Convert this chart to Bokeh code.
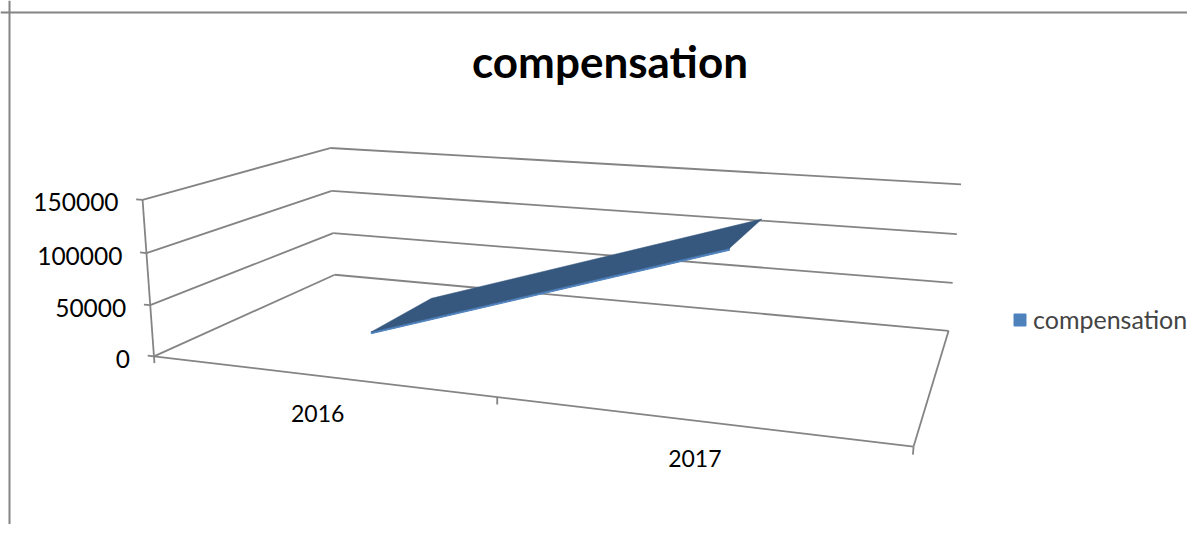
import numpy as np
from bokeh.plotting import figure
from bokeh.models import Range1d, Legend, LegendItem, Span
from bokeh.core.properties import value
from bokeh.embed import file_html
from bokeh.resources import INLINE

# ---------------- data ----------------
categories = ["2016", "2017"]
compensation = [13000, 123000]
value_ticks = [0, 50000, 100000, 150000]
value_tick_labels = ["0", "50000", "100000", "150000"]
title_text = "compensation"
series_name = "compensation"

# ---------------- layout (3-D box anchors, screen px) ----------------
W, H = 1187, 524
VMAX = value_ticks[-1]
# (u along categories, w depth, h = value / VMAX) -> screen point
BOX3D = [(0, 0, 0), (0.5, 0, 0), (1, 0, 0), (1, 1, 0), (0, 1, 0),
         (0, 0, 1), (0, 1, 1), (1, 1, 1),
         (0, 0, 1/3), (0, 0, 2/3), (0, 1, 1/3), (0, 1, 2/3), (1, 1, 1/3), (1, 1, 2/3)]
BOX2D = [(156, 356), (497, 397), (913, 446), (948, 331), (334, 274),
         (143, 200), (330, 147), (960, 184),
         (147, 303), (145, 253), (332, 233), (332, 191), (952, 282), (957, 233)]
W_FRONT, W_BACK = 0.30, 0.695      # depth occupied by the ribbon
RIB_T = 0.012                      # ribbon thickness (value fraction)

CX, CY, CS = 600.0, 300.0, 300.0
rows = []
for (X, Y, Z), (x, y) in zip(BOX3D, BOX2D):
    x, y = (x - CX) / CS, (y - CY) / CS
    rows.append([X, Y, Z, 1, 0, 0, 0, 0, -x * X, -x * Y, -x * Z, -x])
    rows.append([0, 0, 0, 0, X, Y, Z, 1, -y * X, -y * Y, -y * Z, -y])
_, _, vt = np.linalg.svd(np.array(rows, dtype=float))
M = vt[-1].reshape(3, 4)


def proj(u, w, h):
    u, w, h = np.broadcast_arrays(np.asarray(u, float), np.asarray(w, float), np.asarray(h, float))
    P = np.stack([u, w, h, np.ones_like(u)])
    q = M @ P.reshape(4, -1)
    x = q[0] / q[2] * CS + CX
    y = q[1] / q[2] * CS + CY
    return x.reshape(u.shape).tolist(), y.reshape(u.shape).tolist()


p = figure(width=W, height=H, output_backend="svg", toolbar_location=None,
           x_range=Range1d(0, W), y_range=Range1d(H, 0),
           min_border=0, background_fill_color="white", border_fill_color="white")
p.axis.visible = False
p.grid.visible = False
p.outline_line_color = None

GRID = "#848484"
# chart-area border
p.add_layout(Span(location=12, dimension="width", line_color=GRID, line_width=2))
p.add_layout(Span(location=9, dimension="height", line_color=GRID, line_width=2))

hs = [t / VMAX for t in value_ticks]
xs, ys = [], []
for h in hs:
    a = proj([0, 1], [1, 1], [h, h]); xs.append(a[0]); ys.append(a[1])   # back wall
    a = proj([0, 0], [0, 1], [h, h]); xs.append(a[0]); ys.append(a[1])   # side wall
    a = proj([-0.01, 0], [0, 0], [h, h]); xs.append(a[0]); ys.append(a[1])  # value tick
# floor front & right edges, value axis
for seg in [([0, 1], [0, 0], [0, 0]), ([1, 1], [0, 1], [0, 0]), ([0, 0], [0, 0], [0, 1])]:
    a = proj(*seg); xs.append(a[0]); ys.append(a[1])
ncat = len(categories)
for i in range(ncat + 1):
    u = i / ncat
    a = proj([u, u], [0, 0], [0, -0.045]); xs.append(a[0]); ys.append(a[1])
p.multi_line(xs, ys, line_color=GRID, line_width=1.8)

# value labels
lx, ly = proj([0] * len(hs), [0] * len(hs), hs)
p.text(x=[v - 24 for v in lx], y=[v + 2.5 for v in ly], text=value_tick_labels,
       text_font=value("Lato"), text_font_size="24.5px", text_align="right",
       text_baseline="alphabetic", text_color="black")

# category labels
cu = [(i + 0.5) / ncat for i in range(ncat)]
cx, cy = proj(cu, [0] * ncat, [0] * ncat)
p.text(x=cx, y=[v + 38 for v in cy], text=categories,
       text_font=value("Lato"), text_font_size="23px", text_align="center",
       text_baseline="alphabetic", text_color="black")

# ribbon (3-D line)
hv = [v / VMAX for v in compensation]
fx, fy = proj(cu + cu[::-1], [W_FRONT] * (2 * ncat),
              hv + [h - RIB_T for h in hv[::-1]])
front = p.patch(fx, fy, fill_color="#4F81BD", line_color="#4F81BD", line_width=1)
tx, ty = proj(cu + cu[::-1], [W_FRONT] * ncat + [W_BACK] * ncat, hv + hv[::-1])
p.patch(tx, ty, fill_color="#36587F", line_color="#36587F", line_width=0.5)

# title
p.text(x=[609.5], y=[60], text=[title_text], text_font=value("Lato"),
       text_font_size="44px", text_font_style="bold", text_align="center",
       text_baseline="alphabetic", text_color="black")

legend = Legend(items=[LegendItem(label=series_name, renderers=[front])],
                location=(1012, 190), orientation="vertical",
                glyph_width=15, glyph_height=15, label_standoff=6,
                label_text_font="Lato", label_text_font_size="25px",
                padding=0, margin=0, spacing=0,
                border_line_alpha=0, background_fill_alpha=0)
p.add_layout(legend)

open("out.html", "w").write(file_html(p, INLINE))
